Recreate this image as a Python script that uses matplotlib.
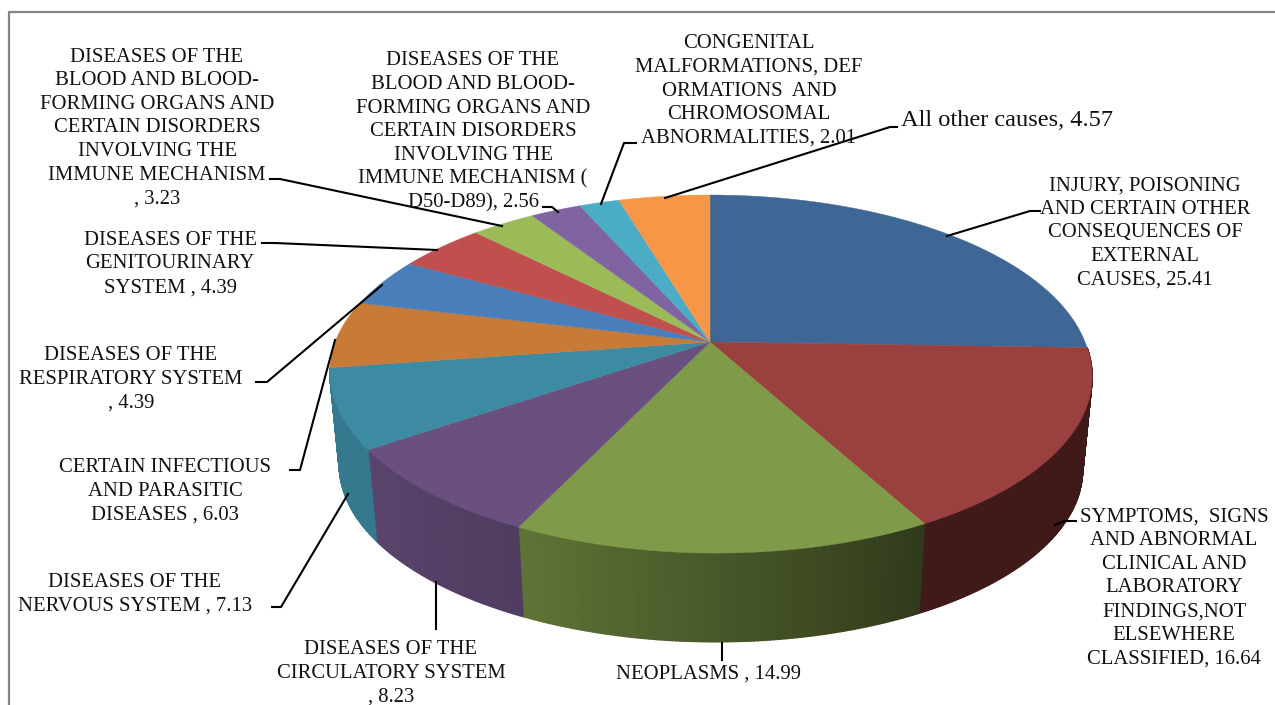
import numpy as np
import matplotlib
matplotlib.use('Agg')
import matplotlib.pyplot as plt
from matplotlib.colors import to_rgb

plt.rcParams['font.family'] = ['Liberation Serif', 'DejaVu Serif']

# causes and shares, clockwise from 12 o'clock
labels = [
    'INJURY, POISONING\nAND CERTAIN OTHER\nCONSEQUENCES OF\nEXTERNAL\nCAUSES, 25.41',
    'SYMPTOMS,  SIGNS\nAND ABNORMAL\nCLINICAL AND\nLABORATORY\nFINDINGS,NOT\nELSEWHERE\nCLASSIFIED, 16.64',
    'NEOPLASMS , 14.99',
    'DISEASES OF THE\nCIRCULATORY SYSTEM\n, 8.23',
    'DISEASES OF THE\nNERVOUS SYSTEM , 7.13',
    'CERTAIN INFECTIOUS\nAND PARASITIC\nDISEASES , 6.03',
    'DISEASES OF THE\nRESPIRATORY SYSTEM\n, 4.39',
    'DISEASES OF THE\nGENITOURINARY\nSYSTEM , 4.39',
    'DISEASES OF THE\nBLOOD AND BLOOD-\nFORMING ORGANS AND\nCERTAIN DISORDERS\nINVOLVING THE\nIMMUNE MECHANISM\n, 3.23',
    'DISEASES OF THE\nBLOOD AND BLOOD-\nFORMING ORGANS AND\nCERTAIN DISORDERS\nINVOLVING THE\nIMMUNE MECHANISM (\nD50-D89), 2.56',
    'CONGENITAL\nMALFORMATIONS, DEF\nORMATIONS  AND\nCHROMOSOMAL\nABNORMALITIES, 2.01',
    'All other causes, 4.57',
]
values = [25.41, 16.64, 14.99, 8.23, 7.13, 6.03, 4.39, 4.39, 3.23, 2.56, 2.01, 4.57]

colors = ['#3e6796', '#9a403e', '#7f9a48', '#69507f', '#3c8ba3', '#c87a37',
          '#4a7ebb', '#c0504d', '#9bbb59', '#8064a2', '#4bacc6', '#f79646']
# darkening of the side wall at the start and end of the slices that show one
wall_shade = {1: (0.41, 0.41), 2: (0.38, 0.75), 3: (0.75, 0.86), 4: (0.87, 0.87)}

# label centres in pixels
label_pos = [(1145, 233), (1174, 588), (708, 674), (391, 673), (135, 594), (165, 491),
             (131, 379), (170, 264), (157, 128), (473, 132), (749, 91), (1007, 120)]
label_size = [14.9] * 11 + [17.6]
leaders = [
    [(947, 236), (1030, 211), (1040, 211)],
    [(1055, 525), (1065, 521), (1076, 521)],
    [(722, 643), (722, 660)],
    [(436, 582), (436, 629)],
    [(348, 494), (281, 607), (272, 607)],
    [(335, 340), (300, 470), (290, 470)],
    [(382, 285), (267, 382), (256, 382)],
    [(437, 250), (275, 243), (262, 243)],
    [(502, 226), (280, 179), (270, 179)],
    [(558, 212), (552, 207), (543, 207)],
    [(601, 204), (624, 143), (636, 143)],
    [(665, 198), (890, 127), (897, 127)],
]

CX, CY = 710, 342
RX, RY, PERSP = 375, 173.3, 0.179
SHEAR = 0.03
DEPTH, BOTTOM_SCALE = 94, 0.975


def project(theta, depth=0, scale=1.0):
    # theta in degrees, clockwise from the top, with a perspective squeeze
    t = np.radians(theta)
    x, y = np.sin(t), np.cos(t)
    w = 1 + PERSP * y
    sx = scale * RX * x / w
    sy = -scale * RY * y / w
    # the front half leans a little to the right
    return CX + sx + SHEAR * np.maximum(sy, 0), CY + depth + sy


fig = plt.figure(figsize=(12.75, 7.05), dpi=100)
ax = fig.add_axes([0, 0, 1, 1])
ax.set_xlim(0, 1275)
ax.set_ylim(705, 0)
ax.axis('off')

edges = np.concatenate([[0], np.cumsum(values)]) / sum(values) * 360

# side wall first, the top covers whatever is behind it
for i, (s0, s1) in wall_shade.items():
    n = max(int(edges[i + 1] - edges[i]) * 2, 2)
    th = np.linspace(edges[i], edges[i + 1], n + 1)
    c = np.array(to_rgb(colors[i]))
    shade = np.linspace(s0, s1, n)
    for j in range(n):
        tx, ty = project(th[j:j + 2])
        bx, by = project(th[j:j + 2], depth=DEPTH, scale=BOTTOM_SCALE)
        ax.fill(np.r_[tx, bx[::-1]], np.r_[ty, by[::-1]], color=c * shade[j], lw=1.0, zorder=1)

# top face
for i in range(len(values)):
    th = np.linspace(edges[i], edges[i + 1], 80)
    x, y = project(th)
    ax.fill(np.r_[CX, x], np.r_[CY, y], color=colors[i], lw=0.3, zorder=2)

for pts in leaders:
    xs, ys = zip(*pts)
    ax.plot(xs, ys, color='black', lw=1.5, solid_joinstyle='miter', zorder=3)

for txt, (lx, ly), fs in zip(labels, label_pos, label_size):
    ax.text(lx, ly, txt, ha='center', va='center', multialignment='center',
            fontsize=fs, linespacing=1.33, color='#111111', zorder=4)

# chart frame, top and left only
ax.plot([8.5, 8.5, 1275], [705, 11.5, 11.5], color='#868686', lw=1.6, zorder=5)

fig.savefig('out.png', dpi=100)
